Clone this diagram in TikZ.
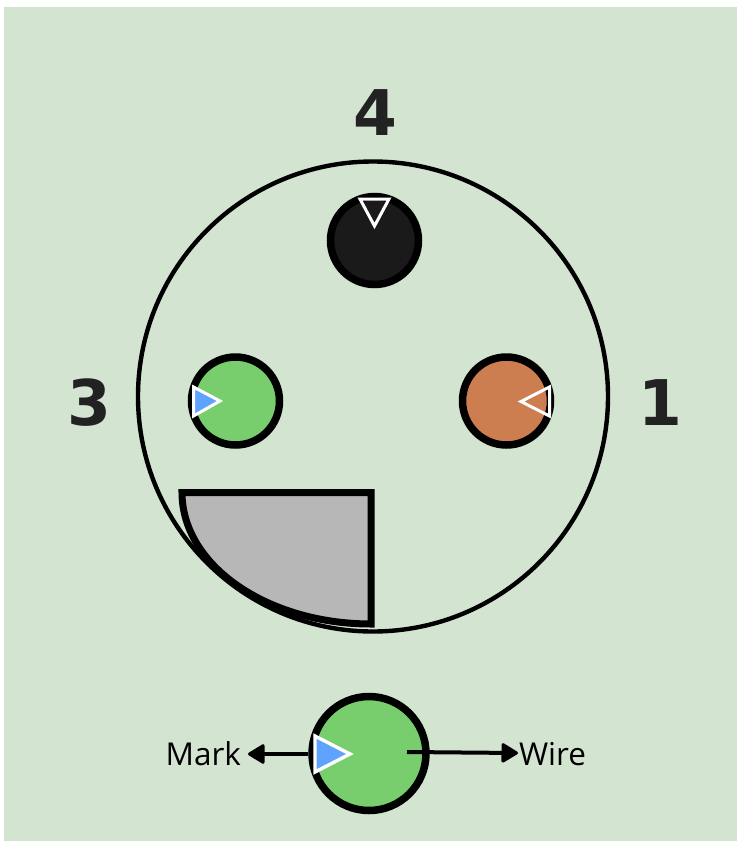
\documentclass[tikz,border=0pt]{standalone}
\usepackage{fontspec}
\setmainfont{Open Sans}
\newfontfamily\digitfont{DejaVu Sans}
\usetikzlibrary{arrows.meta,calc}
\definecolor{bgc}{HTML}{D3E5D1}
\definecolor{greenc}{HTML}{78CD6C}
\definecolor{orangec}{HTML}{CD7E50}
\definecolor{darkc}{HTML}{1A1A1A}
\definecolor{grayc}{HTML}{B7B7B7}
\definecolor{bluec}{HTML}{5FA3FF}
\definecolor{textc}{HTML}{222222}
\tikzset{
  pin/.style={circle,draw=black,line width=7.5pt,minimum size=88pt,inner sep=0pt,outer sep=0pt},
  bigpin/.style={circle,draw=black,line width=7.5pt,minimum size=114pt,inner sep=0pt,outer sep=0pt},
  marker/.style={draw=white,line width=3pt,line join=miter},
  num/.style={font=\digitfont\fontsize{63}{63}\bfseries\selectfont,text=textc,inner sep=0pt},
  lbl/.style={font=\fontsize{31.5}{32}\selectfont,text=black,inner sep=0pt,outer sep=0pt},
  conn/.style={draw=black,line width=4pt,-{Triangle[round,length=18pt,width=21pt,line width=3pt]}}
}
\begin{document}
\begin{tikzpicture}[x=1pt,y=-1pt]
\useasboundingbox (0,0) rectangle (737,841);
\fill[white] (0,0) rectangle (737,841);
\fill[bgc] (4,7) rectangle (737,841);
% outer shell
\node[circle,draw=black,line width=4.4pt,minimum size=470pt,inner sep=0pt,outer sep=0pt] (shell) at (373,396.5) {};
% pins
\node[pin,fill=darkc] (pinfour) at (374.5,240.5) {};
\node[pin,fill=greenc] (pinthree) at (235.5,401) {};
\node[pin,fill=orangec] (pinone) at (506.5,401) {};
% key
\draw[black,line width=7pt,fill=grayc,miter limit=10] (182,492.5) -- (371,492.5) -- (371,624) .. controls (266.6,624) and (182,565.1) .. (182,492.5) -- cycle;
% markers
\draw[marker] (360,199) -- (389,199) -- (374.5,226) -- cycle;
\draw[marker,fill=bluec] (193.5,387) -- (220,401) -- (193.5,416) -- cycle;
\draw[marker] (549.5,387) -- (521,401.5) -- (549.5,416) -- cycle;
% labels
\node[num] (nfour) at (375.5,113) {4};
\node[num] (nthree) at (89,403) {3};
\node[num] (none) at (660.5,403) {1};
% legend
\node[bigpin,fill=greenc] (legend) at (369,753.5) {};
\coordinate (wirestart) at (407,752);
\coordinate (markstart) at (308,754);
\node[lbl,anchor=east] (mark) at (241,754) {Mark};
\node[lbl,anchor=west] (wire) at (519,754) {Wire};
\coordinate (marktip) at (248,754);
\coordinate (wiretip) at (518,753);
\draw[conn] (markstart) -- (marktip);
\draw[conn] (wirestart) -- (wiretip);
\draw[marker,fill=bluec,line width=3.4pt] (315,736) -- (350,754) -- (315,772) -- cycle;
\end{tikzpicture}
\end{document}
